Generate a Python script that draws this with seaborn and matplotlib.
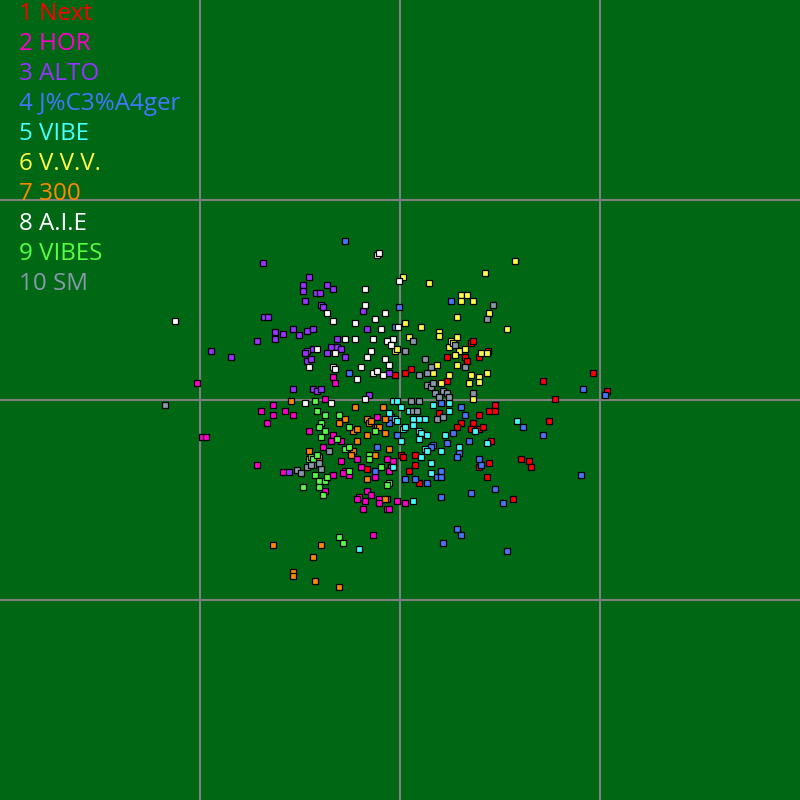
import numpy as np
import pandas as pd
import seaborn as sns
import matplotlib
matplotlib.use("Agg")
import matplotlib.pyplot as plt

labels = ["1 Next", "2 HOR", "3 ALTO", "4 J%C3%A4ger", "5 VIBE", "6 V.V.V.",
          "7 300", "8 A.I.E", "9 VIBES", "10 SM"]
colors = ["#ff0000", "#ff00cc", "#9933ff", "#4477ff", "#44ffff", "#ffff44",
          "#ff8800", "#ffffff", "#55ff44", "#8899aa"]

next_pts = [(47,43),(65,43),(67,39),(71,57),(73,59),(79,43),(88,49),(193,27),(143,19),(155,1),
            (207,9),(95,-5),(89,-11),(95,-11),(79,-15),(149,-21),(73,-23),(61,-23),(57,-27),(71,-29),
            (79,-29),(83,-27),(91,-41),(121,-59),(129,-61),(131,-67),(89,-63),(79,-67),(87,-77),(113,-99),
            (5,27),(11,31),(-5,25),(47,19),(39,-13),(1,-55),(3,-57),(15,-55),(15,-65),(-33,-69),
            (9,-71),(19,-83)]
hor_pts = [(-203,17),(-127,-5),(-139,-11),(-127,-15),(-115,-11),(-107,-15),(-133,-23),(-198,-37),
           (-194,-37),(-143,-65),(-91,-31),(-117,-72),(-67,23),(-65,17),(-75,1),(-67,-35),(-69,-41),
           (-59,-41),(-23,-17),(-77,-47),(-59,-61),(-43,-59),(-39,-67),(-13,-59),(-7,-61),(-9,-67),
           (-67,-75),(-55,-71),(-57,-73),(-51,-75),(-75,-91),(-25,-77),(-11,-71),(-33,-91),(-29,-95),
           (-35,-101),(-41,-97),(-43,-99),(-37,-109),(-21,-99),(-21,-103),(-13,-109),(-11,-109),
           (-3,-101),(5,-103),(-27,-135)]
alto_pts = [(-137,137),(-97,115),(-97,109),(-91,123),(-95,99),(-136,83),(-132,83),(-125,68),
            (-125,61),(-117,66),(-107,71),(-101,65),(-93,69),(-143,59),(-189,49),(-93,49),(-73,115),
            (-67,111),(-84,107),(-80,107),(-79,95),(-77,93),(-37,89),(-87,71),(-33,71),(-63,61),
            (-69,53),(-63,53),(-59,51),(-87,51),(-73,47),(-169,43),(-93,39),(-107,11),(-89,41),
            (-55,43),(-87,11),(-83,9),(-79,11),(-31,5),(-11,27),(-95,47),(-13,-99),(-111,-72)]
jager_pts = [(-55,159),(-1,93),(-5,73),(51,99),(183,11),(205,5),(61,-7),(65,-15),(123,-27),
             (143,-35),(69,-41),(59,-53),(79,-59),(81,-65),(181,-75),(71,-93),(95,-89),(103,-103),
             (57,-129),(61,-135),(107,-151),(-25,-71),(5,-79),(15,-79),(27,-83),(37,-77),(41,-77),
             (41,-71),(41,-97),(43,-143),(-51,27),(-9,-17),(-11,-23),(-3,-35),(-23,-47),(41,-3),
             (33,-45),(31,-47),(47,-43),(53,-33),(57,-57)]
vibe_pts = [(-7,-1),(-3,-1),(1,-7),(9,-11),(15,-11),(19,-19),(25,-19),(13,-19),(-5,-19),(-3,-21),
            (-11,-13),(13,-25),(3,-29),(5,-27),(19,-31),(21,-33),(27,-35),(19,-39),(1,-41),(25,-49),
            (27,-51),(21,-57),(31,-63),(41,-51),(45,-35),(49,-3),(33,-5),(49,-11),(59,-47),(117,-21),
            (75,-31),(87,-43),(-7,-67),(13,-101),(31,-73),(-41,-149)]
vvv_pts = [(3,123),(29,117),(5,77),(21,73),(39,68),(39,64),(9,63),(-5,49),(-3,51),(49,53),(51,59),
           (53,57),(115,139),(85,127),(61,105),(67,105),(61,99),(73,99),(89,87),(57,83),(107,71),
           (57,63),(59,49),(65,51),(81,47),(87,47),(57,35),(71,25),(79,23),(69,17),(87,27),(79,18),
           (73,1),(37,35),(33,27),(41,17),(49,25),(55,45)]
t300_pts = [(-109,-1),(-91,-51),(-45,-7),(-17,-7),(-55,-19),(-61,-23),(-33,-19),(-31,-23),(-29,-21),
            (-15,-19),(-23,-27),(-21,-27),(-47,-31),(-43,-29),(-33,-35),(-15,-33),(-43,-41),(-47,-51),
            (-49,-55),(-25,-55),(-11,-49),(-81,-57),(-33,-79),(-15,-99),(-79,-145),(-87,-157),
            (-85,-181),(-61,-187),(-127,-145),(-107,-172),(-107,-176)]
aie_pts = [(-225,79),(-23,145),(-21,147),(-1,119),(-35,111),(-35,95),(-73,87),(-15,87),(-25,81),
           (-67,79),(-45,77),(-19,71),(-55,61),(-45,61),(-27,61),(-7,61),(-13,59),(-9,55),(-83,51),
           (-29,49),(-2,73),(-91,33),(-67,33),(-65,31),(-33,43),(-15,41),(-11,35),(-39,33),(-27,27),
           (-23,29),(-17,25),(-43,21),(-95,-3),(-69,-3),(-35,1),(-65,47)]
vibes_pts = [(-91,-59),(-85,-1),(-83,-11),(-75,-15),(-61,-15),(-51,-27),(-79,-23),(-81,-27),(-75,-31),
             (-79,-37),(-25,-31),(-63,-39),(-55,-49),(-89,-57),(-87,-59),(-83,-55),(-31,-55),(-31,-59),
             (-51,-47),(-19,-67),(-85,-75),(-81,-81),(-75,-81),(-73,-77),(-81,-87),(-77,-95),(-51,-71),
             (-11,-83),(-13,-85),(-61,-137),(-57,-143),(-97,-87)]
sm_pts = [(-235,-5),(-103,-70),(-93,-67),(-99,-73),(-87,-65),(-79,-69),(25,41),(31,33),(19,25),
          (27,27),(27,15),(31,13),(33,17),(35,7),(43,9),(47,7),(39,3),(49,3),(11,-1),(19,-1),
          (13,-11),(17,-11),(37,-19),(43,-17),(5,49),(-71,-51),(-89,-65),(-81,-63),(13,59),(93,95),
          (87,81),(55,55),(65,33),(73,7)]

series = [next_pts, hor_pts, alto_pts, jager_pts, vibe_pts, vvv_pts, t300_pts, aie_pts, vibes_pts, sm_pts]

rows = []
for lab, pts in zip(labels, series):
    for x, y in pts:
        rows.append({"x": x, "y": y, "group": lab})
df = pd.DataFrame(rows)

bg = "#006715"
fig = plt.figure(figsize=(8, 8), dpi=100, facecolor=bg)
ax = fig.add_axes([0, 0, 1, 1])
ax.set_facecolor(bg)
ax.set_xlim(-400, 400)
ax.set_ylim(-400, 400)
ax.set_xticks([-200, 0, 200])
ax.set_yticks([-200, 0, 200])
ax.tick_params(length=0, labelbottom=False, labelleft=False)
for s in ax.spines.values():
    s.set_visible(False)
ax.grid(True, color="#808080", linewidth=1.5, zorder=0.5)
ax.set_axisbelow(True)

sns.scatterplot(data=df, x="x", y="y", hue="group", hue_order=labels,
                palette=dict(zip(labels, colors)), marker="s", s=20,
                edgecolor="black", linewidth=0.9, legend=False, ax=ax, zorder=3)
ax.set_xlabel("")
ax.set_ylabel("")

for i, (lab, col) in enumerate(zip(labels, colors)):
    ax.text(0.024, 0.975 - i * 0.0375, lab, transform=ax.transAxes, color=col,
            fontsize=17.4, family=["Open Sans", "DejaVu Sans"], ha="left", va="baseline", zorder=2)

fig.savefig("out.png", dpi=100, facecolor=bg)
